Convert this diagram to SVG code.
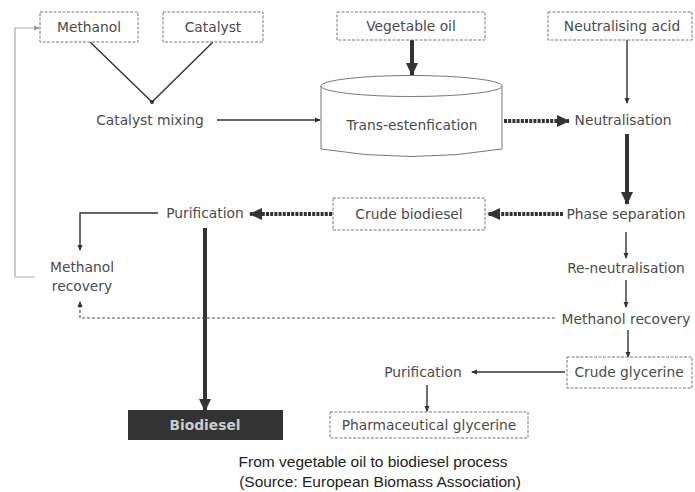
<svg xmlns="http://www.w3.org/2000/svg" width="695" height="492" viewBox="0 0 695 492">
<style>
.t{font-family:"DejaVu Sans",Verdana,sans-serif;font-size:13.8px;fill:#4a4a4a;text-anchor:middle}
.box{fill:#fff;stroke:#777;stroke-width:1;stroke-dasharray:3,1.5}
.thin{fill:none;stroke:#333;stroke-width:1.4}
.thick{fill:none;stroke:#333;stroke-width:4}
.hatch{fill:none;stroke:#333;stroke-width:4;stroke-dasharray:3,1.2}
.dot{fill:none;stroke:#555;stroke-width:1.2;stroke-dasharray:3,2}
.grey{fill:none;stroke:#aaa;stroke-width:1.2}
.cap{font-family:"Liberation Sans",Arial,sans-serif;font-size:15.5px;fill:#222;text-anchor:middle}
</style>
<defs>
<marker id="sm" markerWidth="6" markerHeight="6" refX="5" refY="3" orient="auto" markerUnits="userSpaceOnUse"><path d="M0,0.5 L6,3 L0,5.5 z" fill="#333"/></marker>
<marker id="big" markerWidth="14" markerHeight="14" refX="12" refY="7" orient="auto" markerUnits="userSpaceOnUse"><path d="M0,1 L13,7 L0,13 z" fill="#333"/></marker>
<marker id="gr" markerWidth="6" markerHeight="6" refX="5" refY="3" orient="auto" markerUnits="userSpaceOnUse"><path d="M0,0.5 L6,3 L0,5.5 z" fill="#999"/></marker>
</defs>
<rect width="695" height="492" fill="#fff"/>

<g id="connectors">
<path class="thin" d="M90,42 L152,102 L213,42"/>
<circle cx="152" cy="102" r="2" fill="#333"/>
<line class="thin" x1="217" y1="120" x2="320" y2="120" marker-end="url(#sm)"/>
<line class="thick" x1="412" y1="40" x2="412" y2="75" marker-end="url(#big)"/>
<line class="thin" x1="627" y1="40" x2="627" y2="103" marker-end="url(#sm)"/>
<line class="hatch" x1="504" y1="121" x2="569" y2="121" marker-end="url(#big)"/>
<line class="thick" x1="627" y1="134" x2="627" y2="204" marker-end="url(#big)"/>
<line class="hatch" x1="563" y1="214" x2="488" y2="214" marker-end="url(#big)"/>
<line class="hatch" x1="332" y1="214" x2="250" y2="214" marker-end="url(#big)"/>
<line class="thick" x1="205" y1="228" x2="205" y2="411" marker-end="url(#big)"/>
<path class="thin" d="M158,213 L80,213 L80,250" marker-end="url(#sm)"/>
<line class="thin" x1="626" y1="232" x2="626" y2="258" marker-end="url(#sm)"/>
<line class="thin" x1="626" y1="280" x2="626" y2="307" marker-end="url(#sm)"/>
<path class="dot" d="M555,318 L80,318 L80,302" marker-end="url(#sm)"/>
<line class="thin" x1="628" y1="330" x2="628" y2="357" marker-end="url(#sm)"/>
<line class="thin" x1="565" y1="372" x2="472" y2="372" marker-end="url(#sm)"/>
<line class="thin" x1="427" y1="385" x2="427" y2="411" marker-end="url(#sm)"/>
<path class="grey" d="M35,277 L15,277 L15,28 L39,28" marker-end="url(#gr)"/>
</g>

<g id="methanol"><rect class="box" x="40" y="12" width="98" height="30"/><text class="t" x="89" y="32">Methanol</text></g>
<g id="catalyst"><rect class="box" x="163" y="12" width="100" height="30"/><text class="t" x="213" y="32">Catalyst</text></g>
<g id="catalyst-mixing"><text class="t" x="150" y="125">Catalyst mixing</text></g>
<g id="vegetable-oil"><rect class="box" x="337" y="12" width="148" height="28"/><text class="t" x="411" y="31">Vegetable oil</text></g>
<g id="trans"><path d="M321,86 L321,149 Q411,164 502,149 L502,86" fill="#fff" stroke="#777" stroke-width="1"/><ellipse cx="411.5" cy="86" rx="90.5" ry="10.5" fill="#fff" stroke="#777" stroke-width="1"/><text class="t" x="412" y="130">Trans-estenfication</text></g>
<g id="neutralising-acid"><rect class="box" x="548" y="12" width="144" height="28"/><text class="t" x="622" y="31">Neutralising acid</text></g>
<g id="neutralisation"><text class="t" x="623" y="125">Neutralisation</text></g>
<g id="phase-separation"><text class="t" x="626" y="219">Phase separation</text></g>
<g id="crude-biodiesel"><rect class="box" x="333" y="198" width="152" height="32"/><text class="t" x="409" y="219">Crude biodiesel</text></g>
<g id="purification-1"><text class="t" x="205" y="218">Purification</text></g>
<g id="methanol-recovery-1"><text class="t" x="82" y="272">Methanol</text><text class="t" x="82" y="291">recovery</text></g>
<g id="re-neutralisation"><text class="t" x="626" y="273">Re-neutralisation</text></g>
<g id="methanol-recovery-2"><text class="t" x="626" y="324">Methanol recovery</text></g>
<g id="crude-glycerine"><rect class="box" x="567" y="357" width="125" height="31"/><text class="t" x="629" y="377">Crude glycerine</text></g>
<g id="purification-2"><text class="t" x="423" y="377">Purification</text></g>
<g id="pharmaceutical-glycerine"><rect class="box" x="330" y="412" width="198" height="26"/><text class="t" x="429" y="430">Pharmaceutical glycerine</text></g>
<g id="biodiesel"><rect x="128" y="410" width="155" height="30" fill="#333"/><text class="t" x="205" y="430" style="fill:#ccc;font-weight:bold">Biodiesel</text></g>
<g id="caption"><text class="cap" x="373" y="467">From vegetable oil to biodiesel process</text><text class="cap" x="380" y="487">(Source: European Biomass Association)</text></g>
</svg>
